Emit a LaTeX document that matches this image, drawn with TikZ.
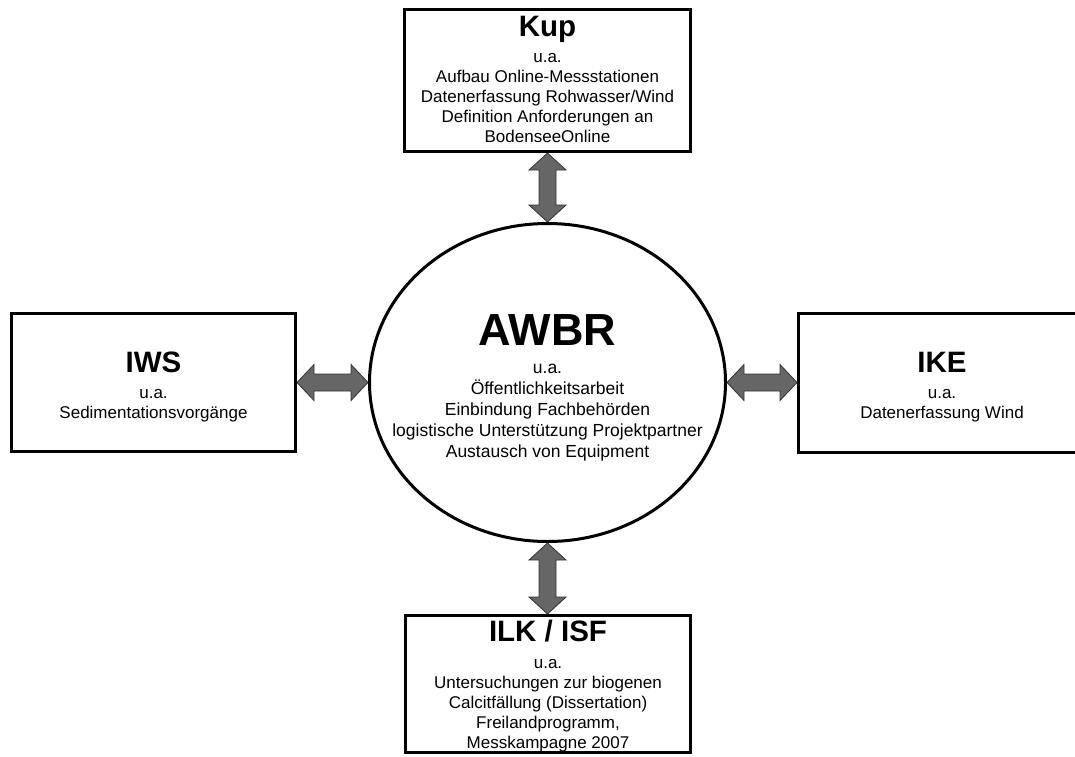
\documentclass[tikz,border=0pt]{standalone}
\usepackage{fontspec}
\setmainfont{Liberation Sans}
\usetikzlibrary{calc,shapes.geometric}
\definecolor{arrgray}{RGB}{102,102,102}
\definecolor{arrline}{RGB}{51,51,51}
\newcommand{\BoxTitle}[1]{{\fontsize{29.5}{30}\selectfont\bfseries #1}}
\newcommand{\BigTitle}[1]{{\fontsize{45}{46}\selectfont\bfseries #1}}
\newcommand{\VArrow}[2]{\path[blockarr] let \p1=(#1), \p2=(#2) in
  (\x1,\y1) -- (\x1+18.5pt,\y1-17pt) -- (\x1+8.5pt,\y1-17pt) -- (\x1+8.5pt,\y2+17pt)
  -- (\x1+18.5pt,\y2+17pt) -- (\x1,\y2) -- (\x1-18.5pt,\y2+17pt) -- (\x1-8.5pt,\y2+17pt)
  -- (\x1-8.5pt,\y1-17pt) -- (\x1-18.5pt,\y1-17pt) -- cycle;}
\newcommand{\HArrow}[2]{\path[blockarr] let \p1=(#1), \p2=(#2) in
  (\x1,\y1) -- (\x1+17pt,\y1+18pt) -- (\x1+17pt,\y1+8.5pt) -- (\x2-17pt,\y1+8.5pt)
  -- (\x2-17pt,\y1+18pt) -- (\x2,\y1) -- (\x2-17pt,\y1-18pt) -- (\x2-17pt,\y1-8.5pt)
  -- (\x1+17pt,\y1-8.5pt) -- (\x1+17pt,\y1-18pt) -- cycle;}
\tikzset{
  box/.style={draw, line width=3pt, rectangle, align=center, inner sep=0pt,
    font=\fontsize{17}{19.8}\selectfont, text depth=0pt},
  bigell/.style={draw, line width=3pt, ellipse, align=center, inner xsep=-40pt, inner ysep=0pt,
    font=\fontsize{17.5}{21}\selectfont, minimum width=356pt, minimum height=318pt, text depth=0pt},
  blockarr/.style={fill=arrgray, draw=arrline, line width=0.8pt, line join=miter}
}
\begin{document}
\begin{tikzpicture}[x=1pt,y=-1pt]
\useasboundingbox (0,0) rectangle (1075,756);
\path[fill=white] (0,0) rectangle (1075,756);

\node[bigell, text height=149pt] (awbr) at (547.5,382.5)
  {\BigTitle{AWBR}\\[7pt] u.a.\\ Öffentlichkeitsarbeit\\ Einbindung Fachbehörden\\
   logistische Unterstützung Projektpartner\\ Austausch von Equipment};

\node[box, minimum width=286pt, minimum height=142pt, text height=123pt] (kup) at (547.5,80.5)
  {\BoxTitle{Kup}\\[6.2pt] u.a.\\ Aufbau Online-Messstationen\\ Datenerfassung Rohwasser/Wind\\
   Definition Anforderungen an\\ BodenseeOnline};

\node[box, minimum width=284pt, minimum height=138pt, text height=71pt] (iws) at (153.5,382.5)
  {\BoxTitle{IWS}\\[6.2pt] u.a.\\ Sedimentationsvorgänge};

\node[box, minimum width=287pt, minimum height=139pt, text height=70pt] (ike) at (942,383)
  {\BoxTitle{IKE}\\[6.2pt] u.a.\\ Datenerfassung Wind};

\node[box, minimum width=285pt, minimum height=137pt, text height=128pt] (ilk) at (548,684)
  {\BoxTitle{ILK / ISF}\\[7.2pt] u.a.\\ Untersuchungen zur biogenen\\ Calcitfällung (Dissertation)\\
   Freilandprogramm,\\ Messkampagne 2007};

\VArrow{kup.south}{awbr.north}
\VArrow{awbr.south}{ilk.north}
\HArrow{iws.east}{awbr.west}
\HArrow{awbr.east}{ike.west}
\end{tikzpicture}
\end{document}
